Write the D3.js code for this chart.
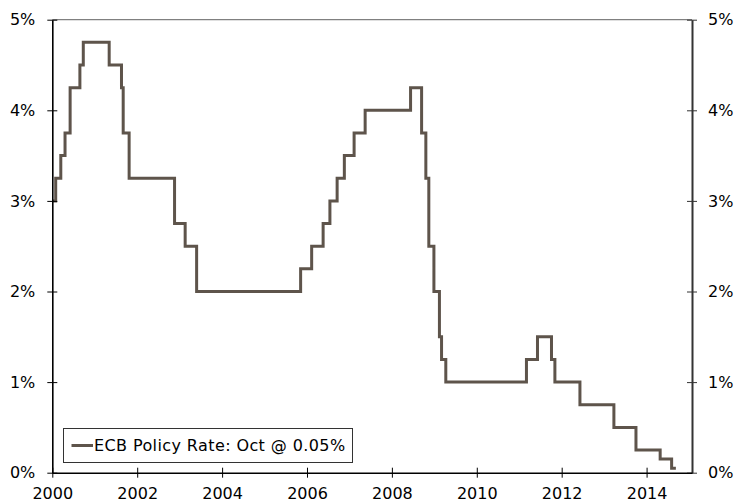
<!DOCTYPE html>
<html>
<head>
<meta charset="utf-8">
<script src="https://cdn.jsdelivr.net/npm/d3@7/dist/d3.min.js"></script>
<style>
  html, body { margin: 0; padding: 0; background: #fff; }
  svg { display: block; }
  text { font-family: "DejaVu Sans", Verdana, sans-serif; font-size: 16px; fill: #000; }
</style>
</head>
<body>
<svg id="chart" width="737" height="502"></svg>
<script>
// ECB main refinancing rate: date of each change (decimal year) and the new level (%)
const changeDates = [
  2000.00, 2000.08, 2000.20, 2000.30, 2000.42, 2000.65, 2000.73,
  2001.34, 2001.63, 2001.67, 2001.81,
  2002.88, 2003.13, 2003.40,
  2005.85, 2006.11, 2006.38, 2006.54, 2006.71, 2006.88, 2007.11, 2007.37,
  2008.44, 2008.70, 2008.80, 2008.87, 2008.99, 2009.12, 2009.17, 2009.27,
  2011.17, 2011.43, 2011.76, 2011.84, 2012.43,
  2013.23, 2013.75, 2014.32, 2014.59, 2014.69
];
const rateLevels = [
  3.00, 3.25, 3.50, 3.75, 4.25, 4.50, 4.75,
  4.50, 4.25, 3.75, 3.25,
  2.75, 2.50, 2.00,
  2.25, 2.50, 2.75, 3.00, 3.25, 3.50, 3.75, 4.00,
  4.25, 3.75, 3.25, 2.50, 2.00, 1.50, 1.25, 1.00,
  1.25, 1.50, 1.25, 1.00, 0.75,
  0.50, 0.25, 0.15, 0.05, 0.05
];
const yearTicks = [2000, 2002, 2004, 2006, 2008, 2010, 2012, 2014];
const rateTicks = [0, 1, 2, 3, 4, 5];
const seriesName = "ECB Policy Rate: Oct @ 0.05%";

const svg = d3.select("#chart");
const plotLeft = 52.3, plotRight = 692, plotTop = 19.7, plotBottom = 472.7;

const x = d3.scaleLinear().domain([2000, 2015.07]).range([plotLeft, plotRight]);
const y = d3.scaleLinear().domain([0, 5]).range([plotBottom, plotTop]);

const data = changeDates.map((d, i) => ({ t: d, v: rateLevels[i] }));

// top border of the plot area
svg.append("line")
  .attr("x1", plotLeft).attr("x2", plotRight)
  .attr("y1", y(5)).attr("y2", y(5))
  .attr("stroke", "#808080").attr("stroke-width", 1.2);

// series line
const line = d3.line()
  .x(d => x(d.t))
  .y(d => y(d.v))
  .curve(d3.curveStepAfter);

svg.append("path")
  .datum(data)
  .attr("d", line)
  .attr("fill", "none")
  .attr("stroke", "#5e544b")
  .attr("stroke-width", 3)
  .attr("stroke-linejoin", "miter");

// left axis
const leftAxis = d3.axisLeft(y).tickValues(rateTicks).tickFormat(d => d + "%").tickSizeInner(5).tickSizeOuter(0);
const gl = svg.append("g").attr("transform", `translate(${plotLeft},0)`).call(leftAxis);
gl.select(".domain").attr("stroke", "#000").attr("stroke-width", 1.6);
gl.selectAll(".tick line").attr("x1", -5).attr("x2", 5).attr("stroke", "#000");
gl.selectAll(".tick text").attr("x", -17);

// right axis
const rightAxis = d3.axisRight(y).tickValues(rateTicks).tickFormat(d => d + "%").tickSizeInner(5).tickSizeOuter(0);
const gr = svg.append("g").attr("transform", `translate(${plotRight},0)`).call(rightAxis);
gr.select(".domain").attr("stroke", "#333").attr("stroke-width", 2);
gr.selectAll(".tick line").attr("x1", -5).attr("x2", 5).attr("stroke", "#333");
gr.selectAll(".tick text").attr("x", 16);

// bottom axis
const bottomAxis = d3.axisBottom(x).tickValues(yearTicks).tickFormat(d3.format("d")).tickSizeInner(5).tickSizeOuter(0);
const gb = svg.append("g").attr("transform", `translate(0,${plotBottom})`).call(bottomAxis);
gb.select(".domain").attr("stroke", "#000").attr("stroke-width", 1.4);
gb.selectAll(".tick line").attr("y1", -5).attr("y2", 5).attr("stroke", "#000");
gb.selectAll(".tick text").attr("y", 15).attr("dy", "0.71em");

// legend
const lg = svg.append("g");
lg.append("rect")
  .attr("x", 63.5).attr("y", 428.5)
  .attr("width", 289).attr("height", 34)
  .attr("fill", "#fff").attr("stroke", "#333").attr("stroke-width", 1);
lg.append("line")
  .attr("x1", 71.5).attr("x2", 93)
  .attr("y1", 445.5).attr("y2", 445.5)
  .attr("stroke", "#5e544b").attr("stroke-width", 3);
lg.append("text")
  .attr("x", 94).attr("y", 445.5)
  .attr("dominant-baseline", "central")
  .attr("letter-spacing", "0.4px")
  .text(seriesName);
</script>
</body>
</html>
